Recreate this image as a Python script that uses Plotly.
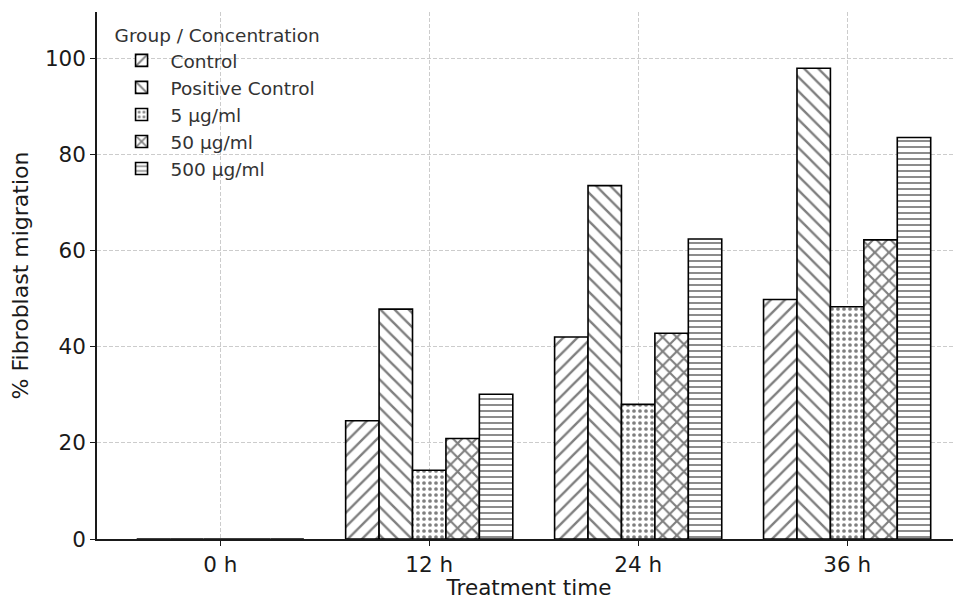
import plotly.graph_objects as go

categories = ["0 h", "12 h", "24 h", "36 h"]
groups = ["Control", "Positive Control", "5 µg/ml", "50 µg/ml", "500 µg/ml"]
control = [0, 24.6, 42.0, 49.8]
positive_control = [0, 47.8, 73.5, 97.9]
conc_5 = [0, 14.3, 28.0, 48.3]
conc_50 = [0, 20.9, 42.8, 62.2]
conc_500 = [0, 30.1, 62.4, 83.5]
series = [control, positive_control, conc_5, conc_50, conc_500]
hatches = ["/", "\\", ".", "x", "-"]
y_ticks = [0, 20, 40, 60, 80, 100]

font_family = "DejaVu Sans"
pat_size = {"/": 10, "\\": 10, ".": 6, "x": 10, "-": 6}
pat_solid = {"/": 0.24, "\\": 0.24, ".": 0.3, "x": 0.38, "-": 0.3}

fig = go.Figure()
for name, vals, h in zip(groups, series, hatches):
    fig.add_trace(go.Bar(
        x=list(range(len(categories))), y=vals, name=name,
        marker=dict(color="white", line=dict(color="black", width=1.6),
                    pattern=dict(shape=h, fgcolor="black", bgcolor="white",
                                 size=pat_size[h], solidity=pat_solid[h])),
    ))

# the page body has an 8px margin, so the figure is sized/offset to compensate
fig.update_layout(
    width=953, height=592,
    margin=dict(l=89, r=0, t=4, b=61),
    paper_bgcolor="white", plot_bgcolor="white",
    barmode="group", bargap=0.2, bargroupgap=0,
    font=dict(family=font_family, color="#1a1a1a"),
    showlegend=True,
    legend=dict(x=0.018, y=0.989, xanchor="left", yanchor="top",
                title=dict(text="Group / Concentration", font=dict(size=18.5, color="#333333")),
                font=dict(size=18.5, color="#333333"), bgcolor="rgba(0,0,0,0)",
                itemwidth=48),
    xaxis=dict(
        range=[-0.59, 3.545], tickmode="array", tickvals=list(range(len(categories))),
        ticktext=categories, tickfont=dict(size=21.5, color="#1a1a1a"),
        showline=True, linecolor="#1a1a1a", linewidth=1.5,
        ticks="outside", ticklen=5, tickwidth=1.2, tickcolor="#1a1a1a",
        showgrid=True, gridcolor="#cccccc", griddash="4px,2px", gridwidth=1,
        zeroline=False, automargin=False,
        title=dict(text="Treatment time", font=dict(size=21.5, color="#1a1a1a"), standoff=4),
    ),
    yaxis=dict(
        range=[0, 109.6], tickmode="array", tickvals=y_ticks,
        tickfont=dict(size=21.5, color="#1a1a1a"),
        showline=True, linecolor="#1a1a1a", linewidth=1.5,
        ticks="outside", ticklen=5, tickwidth=1.2, tickcolor="#1a1a1a",
        showgrid=True, gridcolor="#cccccc", griddash="4px,2px", gridwidth=1,
        zeroline=False, automargin=False,
        title=dict(text="% Fibroblast migration", font=dict(size=22, color="#1a1a1a"), standoff=10),
    ),
)
fig.write_html("out.html")
